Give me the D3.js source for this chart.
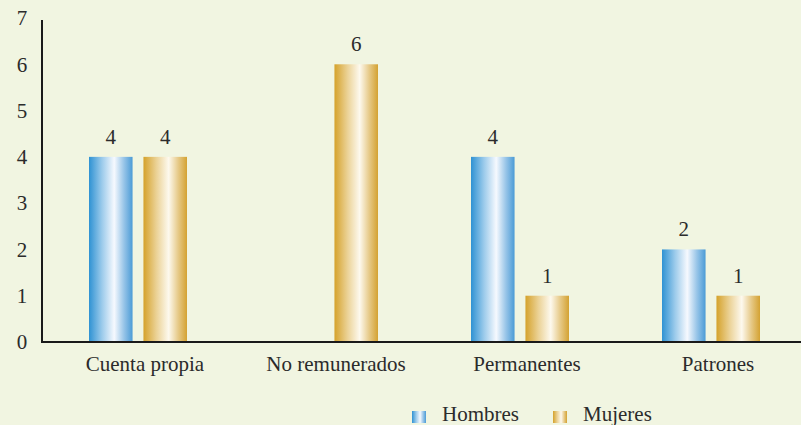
<!DOCTYPE html>
<html><head><meta charset="utf-8">
<script src="https://cdn.jsdelivr.net/npm/d3@7"></script>
<style>
html,body{margin:0;padding:0;background:#f1f5e1;}
svg{display:block;}
</style></head>
<body><svg id="c" width="801" height="425"></svg>
<script>
const categories = ["Cuenta propia","No remunerados","Permanentes","Patrones"];
const hombres = [4, 0, 4, 2];
const mujeres = [4, 6, 1, 1];
const seriesNames = ["Hombres","Mujeres"];
const yTicks = [0,1,2,3,4,5,6,7];

const FONT = "'Liberation Serif', 'Times New Roman', serif";
const svg = d3.select("#c");
const W = 801, H = 425;
const x0 = 42, y0 = 342, yTop = 18;

const y = d3.scaleLinear().domain([0,7]).range([y0, yTop]);
const x = d3.scaleBand().domain(categories).range([42.5, 806.5]).paddingInner(0).paddingOuter(0);
const sub = d3.scaleBand().domain(seriesNames).range([x.bandwidth()/2 - 49, x.bandwidth()/2 + 49]).paddingInner(0.2);

const defs = svg.append("defs");
function grad(id, edgeL, mid, edgeR){
  const g = defs.append("linearGradient").attr("id", id).attr("x1","0%").attr("x2","100%").attr("y1","0%").attr("y2","0%");
  g.append("stop").attr("offset","0%").attr("stop-color", edgeL);
  g.append("stop").attr("offset","30%").attr("stop-color", d3.interpolateRgb(edgeL, mid)(0.55));
  g.append("stop").attr("offset","58%").attr("stop-color", mid);
  g.append("stop").attr("offset","80%").attr("stop-color", d3.interpolateRgb(edgeR, mid)(0.45));
  g.append("stop").attr("offset","100%").attr("stop-color", edgeR);
}
grad("gH", "#2f92d3", "#f6f9fe", "#4b9bd6");
grad("gM", "#d5a22b", "#fdf9ee", "#d4a232");
const fills = {Hombres:"url(#gH)", Mujeres:"url(#gM)"};
const TXT = "#2b2b2b";
function txt(sel){ return sel.attr("font-family", FONT).attr("font-size", 21).attr("fill", TXT); }

// y labels
txt(svg.append("g").selectAll("text").data(yTicks).join("text")
  .attr("x", 22).attr("y", d => y(d)).attr("dy","0.35em")
  .attr("text-anchor","middle").text(d => d));

// bars
const data = [];
categories.forEach((c,i) => {
  data.push({cat:c, s:"Hombres", v:hombres[i]});
  data.push({cat:c, s:"Mujeres", v:mujeres[i]});
});
const shown = data.filter(d => d.v > 0);
svg.append("g").selectAll("rect").data(shown).join("rect")
  .attr("x", d => x(d.cat) + sub(d.s))
  .attr("width", sub.bandwidth())
  .attr("y", d => y(d.v))
  .attr("height", d => y(0) - y(d.v))
  .attr("fill", d => fills[d.s]);

txt(svg.append("g").selectAll("text").data(shown).join("text")
  .attr("x", d => x(d.cat) + sub(d.s) + sub.bandwidth()/2)
  .attr("y", d => y(d.v) - 13)
  .attr("text-anchor","middle").text(d => d.v));

// axes lines
svg.append("line").attr("x1", x0).attr("x2", x0).attr("y1", 20).attr("y2", y0+1)
  .attr("stroke","#1a1a1a").attr("stroke-width",2);
svg.append("line").attr("x1", x0-1).attr("x2", W).attr("y1", y0).attr("y2", y0)
  .attr("stroke","#1a1a1a").attr("stroke-width",2);

// category labels
txt(svg.append("g").selectAll("text").data(categories).join("text")
  .attr("x", d => x(d) + x.bandwidth()/2 + 7)
  .attr("y", 371).attr("text-anchor","middle").text(d => d));

// legend
const legX = [412, 553];
const lg = svg.append("g").selectAll("g").data(seriesNames).join("g")
  .attr("transform", (d,i) => `translate(${legX[i]},0)`);
lg.append("rect").attr("x",0).attr("y",411).attr("width",14).attr("height",12).attr("fill", d => fills[d]);
txt(lg.append("text").attr("x", 30).attr("y", 421).text(d => d));
</script></body></html>
